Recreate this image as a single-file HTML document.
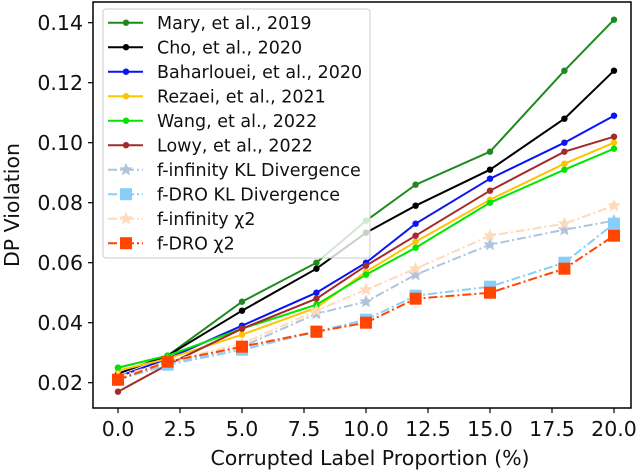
<!DOCTYPE html>
<html><head><meta charset="utf-8"><style>
body{margin:0;background:#fff}
svg{font-family:"DejaVu Sans","Liberation Sans",sans-serif}
</style></head><body>
<svg id="chart" width="640" height="471" xmlns="http://www.w3.org/2000/svg">
<g id="marks"></g>
<g id="axes"></g>
<g id="legend"></g>
</svg>
<script>
const xs = [0,2,5,8,10,12,15,18,20];
const xTicks = [0,2.5,5,7.5,10,12.5,15,17.5,20];
const yTicks = [0.02,0.04,0.06,0.08,0.10,0.12,0.14];
const names = ["Mary, et al., 2019","Cho, et al., 2020","Baharlouei, et al., 2020","Rezaei, et al., 2021","Wang, et al., 2022","Lowy, et al., 2022","f-infinity KL Divergence","f-DRO KL Divergence","f-infinity χ2","f-DRO χ2"];
const mary = [0.025,0.029,0.047,0.060,0.074,0.086,0.097,0.124,0.141];
const cho = [0.023,0.029,0.044,0.058,0.070,0.079,0.091,0.108,0.124];
const baharlouei = [0.022,0.028,0.039,0.050,0.060,0.073,0.088,0.100,0.109];
const rezaei = [0.024,0.028,0.036,0.045,0.057,0.067,0.081,0.093,0.100];
const wang = [0.025,0.029,0.038,0.046,0.056,0.065,0.080,0.091,0.098];
const lowy = [0.017,0.026,0.038,0.048,0.059,0.069,0.084,0.097,0.102];
const finfKL = [0.021,0.026,0.032,0.043,0.047,0.056,0.066,0.071,0.074];
const fdroKL = [0.021,0.026,0.031,0.037,0.041,0.049,0.052,0.060,0.073];
const finfChi = [0.022,0.027,0.033,0.044,0.051,0.058,0.069,0.073,0.079];
const fdroChi = [0.021,0.027,0.032,0.037,0.040,0.048,0.050,0.058,0.069];
const seriesVals = [mary,cho,baharlouei,rezaei,wang,lowy,finfKL,fdroKL,finfChi,fdroChi];
const colors = ["#1e8a1e","#000000","#0a14f5","#ffc400","#00e600","#a52a2a","#b0c4de","#87cefa","#ffdab9","#ff4500"];
const dashed = [false,false,false,false,false,false,true,true,true,true];
const markers = ["dot","dot","dot","dot","dot","dot","star","square","star","square"];
const slugs = ["mary-2019","cho-2020","baharlouei-2020","rezaei-2021","wang-2022","lowy-2022","f-infinity-kl","f-dro-kl","f-infinity-chi2","f-dro-chi2"];

const L=93,R=631,T=2,B=408;
const X = v => 118 + v*24.8;
const Y = v => 382.7 - (v-0.02)/0.02*60;
const NS="http://www.w3.org/2000/svg";
function mk(tag,attrs,parent){const e=document.createElementNS(NS,tag);for(const k in attrs)e.setAttribute(k,attrs[k]);parent.appendChild(e);return e;}
function star(cx,cy,r){let p=[];for(let i=0;i<10;i++){const a=-Math.PI/2+i*Math.PI/5;const rr=i%2?r*0.45:r;p.push((cx+rr*Math.cos(a)).toFixed(1)+","+(cy+rr*Math.sin(a)).toFixed(1));}return p.join(" ");}
function marker(kind,cx,cy,color,parent){
  if(kind==="dot") return mk("circle",{cx,cy,r:3.2,fill:color},parent);
  if(kind==="square") return mk("rect",{x:cx-6,y:cy-6,width:12,height:12,fill:color},parent);
  return mk("polygon",{points:star(cx,cy,7),fill:color},parent);
}
const marks=document.getElementById("marks");
seriesVals.forEach((vals,s)=>{
  const g=mk("g",{},marks);
  
  
  const pts=vals.map((v,i)=>X(xs[i]).toFixed(1)+","+Y(v).toFixed(1)).join(" ");
  const pl=mk("polyline",{points:pts,fill:"none",stroke:colors[s],"stroke-width":2,"stroke-dasharray":dashed[s]?"9,3,2,3":"none"},g);
  
  
  vals.forEach((v,i)=>{
    const m=marker(markers[s],X(xs[i]),Y(v),colors[s],g);
    
    
  });
});
const axes=document.getElementById("axes");
const frame=mk("rect",{x:L,y:T,width:R-L,height:B-T,fill:"none",stroke:"#000","stroke-width":1.5},axes);


xTicks.forEach(t=>{
  mk("line",{x1:X(t),x2:X(t),y1:B,y2:B+5,stroke:"#000","stroke-width":1.2},axes);
  const tx=mk("text",{x:X(t),y:B+28,"font-size":20.5,"text-anchor":"middle",fill:"#111"},axes);
  tx.textContent=t.toFixed(1);
  
  
});
yTicks.forEach(t=>{
  mk("line",{x1:L-5,x2:L,y1:Y(t),y2:Y(t),stroke:"#000","stroke-width":1.2},axes);
  const tx=mk("text",{x:L-10,y:Y(t)+7.5,"font-size":20.5,"text-anchor":"end",fill:"#111"},axes);
  tx.textContent=t.toFixed(2);
  
  
});
const xl=mk("text",{x:(L+R)/2+8,y:465,"font-size":20.5,"text-anchor":"middle",fill:"#111"},axes);
xl.textContent="Corrupted Label Proportion (%)";


const yl=mk("text",{x:0,y:0,"font-size":20.5,"text-anchor":"middle",fill:"#111",transform:"translate(19,205) rotate(-90)"},axes);
yl.textContent="DP Violation";



const leg=document.getElementById("legend");
const box=mk("rect",{x:103,y:9,width:267,height:249,rx:3,fill:"rgba(255,255,255,0.8)",stroke:"#ccc","stroke-width":1},leg);


names.forEach((n,s)=>{
  const cy=22.7+s*24.5;
  const g=mk("g",{},leg);
  
  
  mk("line",{x1:108,x2:143,y1:cy,y2:cy,stroke:colors[s],"stroke-width":2,"stroke-dasharray":dashed[s]?"9,3,2,3":"none"},g);
  marker(markers[s],126,cy,colors[s],g);
  const t=mk("text",{x:157,y:cy+6.5,"font-size":17.5,fill:"#111"},g);
  t.textContent=n;
});
</script>
</body></html>
